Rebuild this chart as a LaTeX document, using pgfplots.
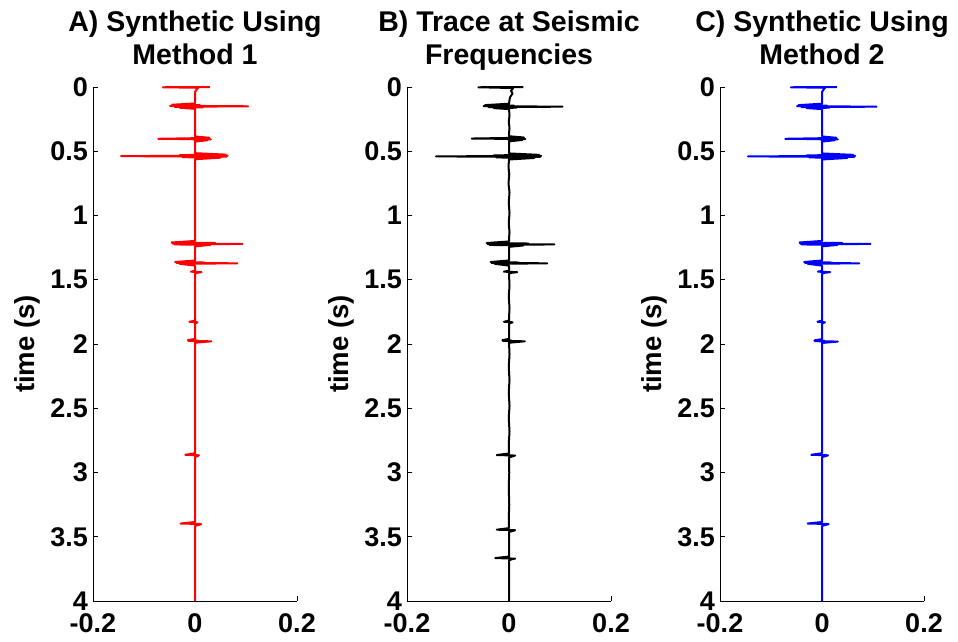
\documentclass[border=0pt]{standalone}
\usepackage{fontspec}
\setmainfont{Liberation Sans}
\usepackage{pgfplots}
\pgfplotsset{compat=1.18}
\begin{document}
\begin{tikzpicture}
\path[use as bounding box] (0pt,0pt) rectangle (958pt,641pt);
\pgfplotsset{trace/.style={
  scale only axis, width=204pt, height=514pt, anchor=center,
  xmin=-0.2, xmax=0.2, ymin=0, ymax=4, y dir=reverse,
  axis x line=bottom, axis y line=left, axis line style={-, line width=0.8pt},
  tick align=inside, major tick length=5pt, tick style={line width=0.8pt, black},
  xtick={-0.2,0,0.2}, xticklabels={-0.2,0,0.2},
  ytick={0,0.5,1,1.5,2,2.5,3,3.5,4}, yticklabels={0,0.5,1,1.5,2,2.5,3,3.5,4},
  ticklabel style={font=\fontsize{27}{27}\selectfont\bfseries, inner sep=0pt},
  yticklabel style={xshift=-5pt},
  xticklabel style={yshift=-12pt},
  ylabel={time (s)},
  ylabel style={at={(axis description cs:-0.3235,0.5)}, anchor=center, font=\fontsize{27.5}{27.5}\selectfont\bfseries, inner sep=0pt},
  title style={at={(axis description cs:0.5,1)}, anchor=south, inner sep=0pt, yshift=10pt, align=center, font=\fontsize{28.5}{33.3}\selectfont\bfseries},
  clip=false,
}}
% Panel A
\begin{axis}[trace, at={(195pt,297pt)}, title={A) Synthetic Using\\Method 1\vphantom{q}}]
\addplot[red, line width=2pt, line join=round] coordinates {
(0.029,0) (-0.063,0.002) (0.006,0.006) (0.003,0.02) (0,0.04)
(0,0.128) (-0.045,0.138) (0.010,0.142) (-0.049,0.146) (0.104,0.150) (-0.040,0.154) (0.015,0.158) (-0.030,0.161) (0,0.170)
(0,0.385) (0.028,0.395) (-0.010,0.399) (-0.072,0.403) (0.031,0.407) (-0.002,0.411) (0.025,0.414) (0,0.425)
(0,0.515) (0.060,0.526) (-0.030,0.530) (0.064,0.534) (-0.145,0.538) (0.062,0.542) (-0.025,0.546) (0.050,0.550) (0,0.562)
(0,1.198) (-0.046,1.210) (0.040,1.214) (-0.044,1.218) (0.093,1.221) (-0.040,1.225) (0.030,1.229) (0,1.240)
(0,1.350) (-0.039,1.362) (0.020,1.366) (-0.036,1.369) (0.083,1.372) (-0.030,1.376) (0,1.390)
(0,1.430) (-0.008,1.437) (0.013,1.441) (0.005,1.445) (0,1.452)
(0,1.818) (-0.011,1.827) (0.005,1.831) (0,1.840)
(0,1.960) (-0.014,1.970) (0.005,1.973) (-0.013,1.976) (0.032,1.979) (0,1.990)
(0,2.850) (-0.019,2.862) (0.008,2.866) (0.006,2.870) (0,2.880)
(0,3.385) (-0.028,3.397) (0.012,3.401) (0.010,3.405) (0,3.415)
(0,4)
};
\end{axis}
% Panel B
\begin{axis}[trace, at={(509pt,297pt)}, title={B) Trace at Seismic\\Frequencies\vphantom{q}}]
\addplot[black, line width=2pt, line join=round] coordinates {
(0.028,0) (-0.060,0.002) (0.008,0.008) (0.004,0.03) (0.007,0.05) (0.002,0.08) (0.001,0.10)
(0,0.130) (-0.047,0.141) (0.010,0.145) (-0.050,0.149) (0.105,0.153) (-0.040,0.157) (0.015,0.161) (-0.030,0.164) (0,0.172)
(0.001,0.22) (-0.0005,0.27) (0.001,0.32) (0,0.36)
(0,0.383) (0.029,0.393) (-0.010,0.397) (-0.073,0.401) (0.032,0.405) (-0.002,0.409) (0.026,0.412) (0,0.423)
(0,0.517) (0.059,0.528) (-0.030,0.532) (0.063,0.536) (-0.143,0.540) (0.061,0.544) (-0.025,0.548) (0.050,0.552) (0,0.564)
(-0.001,0.62) (0.0005,0.68) (-0.001,0.75) (0.001,0.82) (-0.0005,0.90) (0.001,0.98) (-0.0005,1.06) (0.001,1.13) (0,1.18)
(0,1.202) (-0.044,1.214) (0.038,1.218) (-0.042,1.222) (0.089,1.225) (-0.038,1.229) (0.028,1.233) (0,1.244)
(0,1.350) (-0.036,1.362) (0.020,1.366) (-0.034,1.369) (0.075,1.372) (-0.028,1.376) (0,1.390)
(0,1.430) (-0.010,1.437) (0.016,1.441) (0.006,1.445) (0,1.452)
(0.001,1.55) (-0.0005,1.63) (0.001,1.72) (0,1.80)
(0,1.818) (-0.010,1.827) (0.007,1.831) (0,1.840)
(0,1.960) (-0.013,1.970) (0.005,1.973) (-0.012,1.976) (0.031,1.979) (0,1.990)
(0.001,2.08) (-0.0005,2.18) (0.001,2.28) (-0.0005,2.38) (0.001,2.48) (-0.0005,2.58) (0.001,2.68) (-0.0005,2.78) (0,2.84)
(0,2.852) (-0.024,2.864) (0.012,2.868) (0.009,2.872) (0,2.882)
(0.0005,3.0) (-0.0005,3.12) (0.0005,3.25) (-0.0005,3.36) (0,3.43)
(0,3.433) (-0.024,3.445) (0.012,3.449) (0.009,3.453) (0,3.463)
(0,3.654) (-0.027,3.666) (0.012,3.670) (0.006,3.674) (0,3.684)
(0,4)
};
\end{axis}
% Panel C
\begin{axis}[trace, at={(822pt,297pt)}, title={C) Synthetic Using\\Method 2\vphantom{q}}]
\addplot[blue, line width=2pt, line join=round] coordinates {
(0.029,0) (-0.061,0.002) (0.006,0.006) (0.003,0.02) (0,0.04)
(0,0.130) (-0.046,0.141) (0.010,0.145) (-0.049,0.149) (0.107,0.153) (-0.040,0.157) (0.015,0.161) (-0.030,0.164) (0,0.172)
(0,0.385) (0.028,0.395) (-0.010,0.399) (-0.072,0.403) (0.031,0.407) (-0.002,0.411) (0.025,0.414) (0,0.425)
(0,0.517) (0.061,0.528) (-0.030,0.532) (0.065,0.536) (-0.145,0.540) (0.063,0.544) (-0.025,0.548) (0.050,0.552) (0,0.564)
(0,1.198) (-0.044,1.210) (0.040,1.214) (-0.043,1.218) (0.095,1.221) (-0.040,1.225) (0.030,1.229) (0,1.240)
(0,1.350) (-0.035,1.362) (0.020,1.366) (-0.033,1.369) (0.073,1.372) (-0.028,1.376) (0,1.390)
(0,1.430) (-0.008,1.437) (0.016,1.441) (0.006,1.445) (0,1.452)
(0,1.818) (-0.009,1.827) (0.006,1.831) (0,1.840)
(0,1.962) (-0.015,1.972) (0.005,1.975) (-0.014,1.978) (0.031,1.981) (0,1.992)
(0,2.850) (-0.021,2.862) (0.012,2.866) (0.009,2.870) (0,2.880)
(0,3.385) (-0.028,3.397) (0.013,3.401) (0.010,3.405) (0,3.415)
(0,4)
};
\end{axis}
\end{tikzpicture}
\end{document}
